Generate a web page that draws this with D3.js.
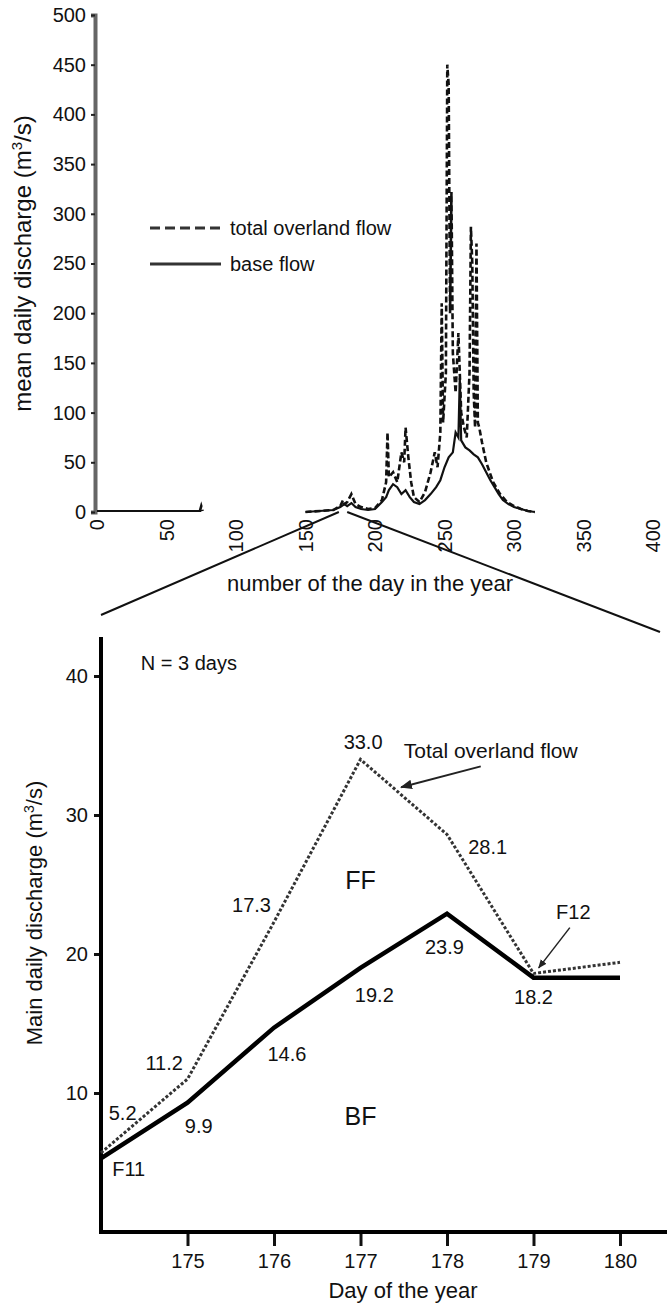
<!DOCTYPE html>
<html>
<head>
  <meta charset="UTF-8">
  <style>
    body { margin: 0; background: #fff; }
    svg text { font-family: "Liberation Sans", Arial, sans-serif; fill: #111; }
  </style>
</head>
<body>
  <svg></svg>
  <script src="https://d3js.org/d3.v7.min.js"></script>
  <script>
    // ---- top chart: whole year, [day, value] ----
    let baseFlowYear = [
      [0, 1], [75, 1], null,
      [150, 0], [170, 2], [175, 5], [178, 8], [180, 6], [183, 9], [186, 5], [190, 3], [195, 2],
      [200, 3], [205, 10], [208, 15], [210, 22], [213, 28], [216, 25], [219, 18], [222, 22],
      [225, 15], [228, 10], [232, 8], [236, 12], [240, 18], [244, 25], [247, 32], [250, 45],
      [253, 55], [256, 60], [258, 80], [260, 75], [261, 135], [262, 72], [265, 65], [268, 62],
      [271, 58], [274, 55], [277, 48], [280, 40], [283, 32], [286, 25], [289, 18], [292, 12],
      [296, 8], [300, 5], [305, 3], [310, 1], [315, 0]
    ];
    let totalFlowYear = [
      [74, 1], [75, 6], [76, 1], null,
      [150, 0], [170, 2], [175, 6], [177, 12], [178, 8], [180, 10], [183, 18], [186, 8], [190, 5],
      [195, 3], [200, 4], [205, 12], [208, 30], [209, 80], [210, 35], [213, 40], [216, 30],
      [219, 60], [221, 50], [222, 85], [224, 55], [226, 30], [228, 15], [232, 10], [236, 20],
      [240, 40], [243, 60], [245, 45], [247, 80], [248, 210], [249, 90], [251, 140], [252, 450],
      [253, 430], [254, 200], [255, 322], [256, 160], [258, 120], [260, 180], [262, 100],
      [264, 85], [266, 75], [268, 140], [269, 287], [270, 250], [271, 120], [272, 85],
      [273, 270], [274, 90], [275, 85], [277, 70], [280, 50], [285, 30], [290, 18], [295, 10],
      [300, 6], [305, 3], [310, 1], [315, 0]
    ];
    let topYTicks = [0, 50, 100, 150, 200, 250, 300, 350, 400, 450, 500];
    let topXTicks = [0, 50, 100, 150, 200, 250, 300, 350, 400];
    let legendLabels = ["total overland flow", "base flow"];

    // ---- bottom chart: zoom on days 174-180 ----
    let days = [174, 175, 176, 177, 178, 179, 180];
    let totalFlow = [5.7, 11.0, 22.3, 34.0, 28.6, 18.6, 19.4];
    let baseFlow = [5.3, 9.3, 14.7, 19.0, 22.9, 18.3, 18.3];
    let bottomYTicks = [10, 20, 30, 40];
    let bottomXTicks = [175, 176, 177, 178, 179, 180];
    // value labels: [text, day, value]
    let valueLabels = [
      ["5.2", 174.25, 8.56], ["11.2", 174.73, 12.16], ["17.3", 175.74, 23.5], ["33.0", 177.03, 35.25],
      ["28.1", 178.47, 27.7], ["9.9", 175.13, 7.63], ["14.6", 176.15, 12.8], ["19.2", 177.16, 17.05],
      ["23.9", 177.97, 20.5], ["18.2", 179.0, 16.9], ["F11", 174.32, 4.5], ["F12", 179.46, 23.0]
    ];

    let width = 667, height = 1305;
    let svg = d3.select("svg").attr("width", width).attr("height", height);

    // ================= top chart =================
    let x1 = d3.scaleLinear().domain([0, 400]).range([97, 653]);
    let y1 = d3.scaleLinear().domain([0, 500]).range([512, 15]);

    // y axis
    let yAx1 = svg.append("g").attr("transform", "translate(95,0)")
      .call(d3.axisLeft(y1).tickValues(topYTicks).tickSize(4).tickPadding(5));
    yAx1.select(".domain").attr("stroke", "#666").attr("stroke-width", 4);
    yAx1.selectAll(".tick line").attr("stroke", "#222").attr("stroke-width", 2);
    yAx1.selectAll(".tick text").style("font-size", "20px").attr("fill", "#111");

    // x tick labels (rotated, no axis line)
    svg.append("g").selectAll("text")
      .data(topXTicks)
      .enter()
      .append("text")
      .attr("transform", d => "translate(" + x1(d) + ",519) rotate(-90)")
      .attr("text-anchor", "end")
      .attr("dy", "0.35em")
      .style("font-size", "20px")
      .text(d => d);

    let line1 = d3.line()
      .defined(d => d != null)
      .x(d => x1(d[0]))
      .y(d => y1(d[1]));

    svg.append("path")
      .attr("d", line1(baseFlowYear))
      .attr("fill", "none")
      .attr("stroke", "#111")
      .attr("stroke-width", 2.2);

    svg.append("path")
      .attr("d", line1(totalFlowYear))
      .attr("fill", "none")
      .attr("stroke", "#111")
      .attr("stroke-width", 2.6)
      .attr("stroke-dasharray", "6,3");

    // legend
    let legend = svg.append("g");
    legendLabels.forEach((lab, i) => {
      let ly = 228 + i * 36;
      legend.append("line")
        .attr("x1", 150).attr("x2", 221).attr("y1", ly).attr("y2", ly)
        .attr("stroke", "#333").attr("stroke-width", 3)
        .attr("stroke-dasharray", i == 0 ? "10,5" : null);
      legend.append("text")
        .attr("x", 230).attr("y", ly + 7)
        .style("font-size", "20px")
        .text(lab);
    });

    // axis titles
    let yt1 = svg.append("text")
      .attr("transform", "translate(31," + y1(250) + ") rotate(-90)")
      .attr("text-anchor", "middle")
      .style("font-size", "24px");
    yt1.append("tspan").text("mean daily discharge (m");
    yt1.append("tspan").attr("dy", -9).style("font-size", "15px").text("3");
    yt1.append("tspan").attr("dy", 9).text("/s)");

    svg.append("text")
      .attr("x", 370).attr("y", 591)
      .attr("text-anchor", "middle")
      .style("font-size", "22px")
      .text("number of the day in the year");

    // ================= bottom chart =================
    let x2 = d3.scaleLinear().domain([174, 180]).range([101, 620]);
    let y2 = d3.scaleLinear().domain([0, 40]).range([1232, 676]);

    // zoom connector lines, from top-chart days to bottom-chart edges
    svg.append("line")
      .attr("x1", x1(days[0])).attr("y1", y1(0))
      .attr("x2", x2(days[0])).attr("y2", 615)
      .attr("stroke", "#111").attr("stroke-width", 2);
    svg.append("line")
      .attr("x1", x1(days[days.length - 1])).attr("y1", y1(0))
      .attr("x2", 660).attr("y2", 632)
      .attr("stroke", "#111").attr("stroke-width", 2);

    let bottom = svg.append("g");

    let yAx2 = bottom.append("g").attr("transform", "translate(" + x2(174) + ",0)")
      .call(d3.axisLeft(y2).tickValues(bottomYTicks).tickSize(7).tickPadding(6));
    yAx2.select(".domain").remove();
    yAx2.selectAll(".tick line").attr("stroke", "#111").attr("stroke-width", 3);
    yAx2.selectAll(".tick text").style("font-size", "20px").attr("fill", "#111");
    bottom.append("line")
      .attr("x1", x2(174)).attr("x2", x2(174))
      .attr("y1", y2(0) + 2).attr("y2", y2(42.8))
      .attr("stroke", "#000").attr("stroke-width", 4);

    let xAx2 = bottom.append("g").attr("transform", "translate(0," + y2(0) + ")")
      .call(d3.axisBottom(x2).tickValues(bottomXTicks).tickSize(14).tickPadding(8).tickFormat(d3.format("d")));
    xAx2.select(".domain").remove();
    xAx2.selectAll(".tick line").attr("stroke", "#111").attr("stroke-width", 3);
    xAx2.selectAll(".tick text").style("font-size", "20px").attr("fill", "#111");
    bottom.append("line")
      .attr("x1", x2(174) - 2).attr("x2", 667)
      .attr("y1", y2(0)).attr("y2", y2(0))
      .attr("stroke", "#000").attr("stroke-width", 4);

    let line2 = d3.line()
      .x((d, i) => x2(days[i]))
      .y(d => y2(d));

    bottom.append("path")
      .attr("d", line2(totalFlow))
      .attr("fill", "none")
      .attr("stroke", "#333")
      .attr("stroke-width", 3)
      .attr("stroke-dasharray", "3,2");

    bottom.append("path")
      .attr("d", line2(baseFlow))
      .attr("fill", "none")
      .attr("stroke", "#000")
      .attr("stroke-width", 4.5)
      .attr("stroke-linejoin", "miter");

    bottom.selectAll(".vlab")
      .data(valueLabels)
      .enter()
      .append("text")
      .attr("class", "vlab")
      .attr("x", d => x2(d[1]))
      .attr("y", d => y2(d[2]))
      .attr("text-anchor", "middle")
      .attr("dy", "0.35em")
      .style("font-size", "20px")
      .text(d => d[0]);

    bottom.append("text")
      .attr("x", x2(177)).attr("y", y2(25.3)).attr("dy", "0.35em")
      .attr("text-anchor", "middle").style("font-size", "25px").text("FF");
    bottom.append("text")
      .attr("x", x2(177)).attr("y", y2(8.35)).attr("dy", "0.35em")
      .attr("text-anchor", "middle").style("font-size", "25px").text("BF");

    bottom.append("text")
      .attr("x", x2(174.46)).attr("y", y2(40.9)).attr("dy", "0.35em")
      .style("font-size", "20px").text("N = 3 days");
    bottom.append("text")
      .attr("x", x2(177.5)).attr("y", y2(34.6)).attr("dy", "0.35em")
      .style("font-size", "21px").text("Total overland flow");

    // arrows
    let defs = svg.append("defs");
    defs.append("marker")
      .attr("id", "arrow")
      .attr("viewBox", "0 0 10 10")
      .attr("refX", 9).attr("refY", 5)
      .attr("markerWidth", 6).attr("markerHeight", 6)
      .attr("orient", "auto")
      .append("path")
      .attr("d", "M0,1 L10,5 L0,9 z")
      .attr("fill", "#222");

    bottom.append("line")
      .attr("x1", x2(178.39)).attr("y1", y2(33.5))
      .attr("x2", x2(177.47)).attr("y2", y2(32.0))
      .attr("stroke", "#222").attr("stroke-width", 2)
      .attr("marker-end", "url(#arrow)");
    bottom.append("line")
      .attr("x1", x2(179.42)).attr("y1", y2(21.9))
      .attr("x2", x2(179.06)).attr("y2", y2(19.0))
      .attr("stroke", "#222").attr("stroke-width", 1.5)
      .attr("marker-end", "url(#arrow)");

    let yt2 = bottom.append("text")
      .attr("transform", "translate(42,913) rotate(-90)")
      .attr("text-anchor", "middle")
      .style("font-size", "22px");
    yt2.append("tspan").text("Main daily discharge (m");
    yt2.append("tspan").attr("dy", -8).style("font-size", "14px").text("3");
    yt2.append("tspan").attr("dy", 8).text("/s)");

    bottom.append("text")
      .attr("x", 403).attr("y", 1298)
      .attr("text-anchor", "middle")
      .style("font-size", "22px")
      .text("Day of the year");
  </script>
</body>
</html>
